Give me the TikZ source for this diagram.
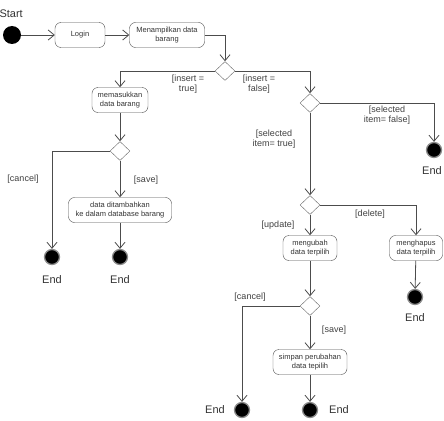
\documentclass[tikz,border=0pt]{standalone}
\usepackage{fontspec}
\setmainfont{Liberation Sans}
\usetikzlibrary{shapes.geometric,arrows.meta}

\begin{document}
\begin{tikzpicture}[x=1pt,y=-1pt]
                        \tikzstyle{activity}=[draw=black!70, rounded corners=6pt, align=center, font=\fontsize{7.5}{8.5}\selectfont, text=black!80, inner sep=2pt, minimum height=25pt]
                        \tikzstyle{decision}=[draw=black!60, diamond, inner sep=0pt, minimum width=20pt, minimum height=19pt]
                        \tikzstyle{final}=[circle, fill=black, draw=black!45, line width=1.3pt, minimum size=15pt, inner sep=0pt]
                        \tikzstyle{guard}=[align=center, font=\fontsize{9}{10}\selectfont, text=black!75]
                        \tikzstyle{endlabel}=[font=\fontsize{11}{12}\selectfont, text=black!80]
                        \tikzstyle{flow}=[draw=black!70, line width=0.8pt, -{Straight Barb[length=6pt,width=10pt]}]
                        \useasboundingbox (0,0) rectangle (444,420);
                        % start and first steps
                        \node[endlabel, anchor=west] (startlbl) at (-4,14) {Start};
                        \node[circle, fill=black, minimum size=18pt, inner sep=0pt] (start) at (12,35) {};
                        \node[activity, minimum width=50pt] (login) at (80,35) {Login};
                        \node[activity, minimum width=75pt] (tampil) at (167,35) {Menampilkan data\\barang};
                        \node[decision] (dec1) at (225,71) {};
                        % insert branch
                        \node[activity, minimum width=56pt] (masuk) at (120,100) {memasukkan\\data barang};
                        \node[decision] (dec2) at (120,151) {};
                        \node[activity, minimum width=103pt] (tambah) at (120,210) {data ditambahkan\\ke dalam database barang};
                        \node[final] (end1) at (52,257) {};
                        \node[final] (end2) at (120,257) {};
                        \node[endlabel] at (52,280) {End};
                        \node[endlabel] at (120,280) {End};
                        % selection branch
                        \node[decision] (dec3) at (310,103) {};
                        \node[final] (end3) at (434,150) {};
                        \node[endlabel] at (432,171) {End};
                        \node[decision] (dec4) at (310,205) {};
                        \node[activity, minimum width=54pt] (ubah) at (310,248) {mengubah\\data terpilih};
                        \node[activity, minimum width=53pt] (hapus) at (416,248) {menghapus\\data terpilih};
                        \node[final] (end4) at (415,297) {};
                        \node[endlabel] at (415,318) {End};
                        \node[decision] (dec5) at (310,306) {};
                        \node[activity, minimum width=74pt] (simpan) at (310,362) {simpan perubahan\\data tepilih};
                        \node[final] (end5) at (242,410) {};
                        \node[final] (end6) at (310,410) {};
                        \node[endlabel] at (215,410) {End};
                        \node[endlabel] at (339,410) {End};
                        % guards
                        \node[guard] at (188,84) {[insert =\\true]};
                        \node[guard] at (259,84) {[insert =\\false]};
                        \node[guard] at (23,179) {[cancel]};
                        \node[guard] at (146,180) {[save]};
                        \node[guard] at (387,115) {[selected\\item= false]};
                        \node[guard] at (274,139) {[selected\\item= true]};
                        \node[guard] at (278,225) {[update]};
                        \node[guard] at (370,214) {[delete]};
                        \node[guard] at (250,297) {[cancel]};
                        \node[guard] at (334,330) {[save]};
                        % connectors
                        \draw[flow] (start) -- (login);
                        \draw[flow] (login) -- (tampil);
                        \draw[flow] (tampil.east) -| (dec1.north);
                        \draw[flow] (dec1.west) -| (masuk.north);
                        \draw[flow] (dec1.east) -| (dec3.north);
                        \draw[flow] (masuk) -- (dec2);
                        \draw[flow] (dec2.west) -| (end1.north);
                        \draw[flow] (dec2) -- (tambah);
                        \draw[flow] (tambah) -- (end2);
                        \draw[flow] (dec3.east) -| (end3.north);
                        \draw[flow] (dec3) -- (dec4);
                        \draw[flow] (dec4) -- (ubah);
                        \draw[flow] (dec4.east) -| (hapus.north);
                        \draw[flow] (hapus) -- (end4);
                        \draw[flow] (ubah) -- (dec5);
                        \draw[flow] (dec5.west) -| (end5.north);
                        \draw[flow] (dec5) -- (simpan);
                        \draw[flow] (simpan) -- (end6);
                    \end{tikzpicture}
\end{document}
